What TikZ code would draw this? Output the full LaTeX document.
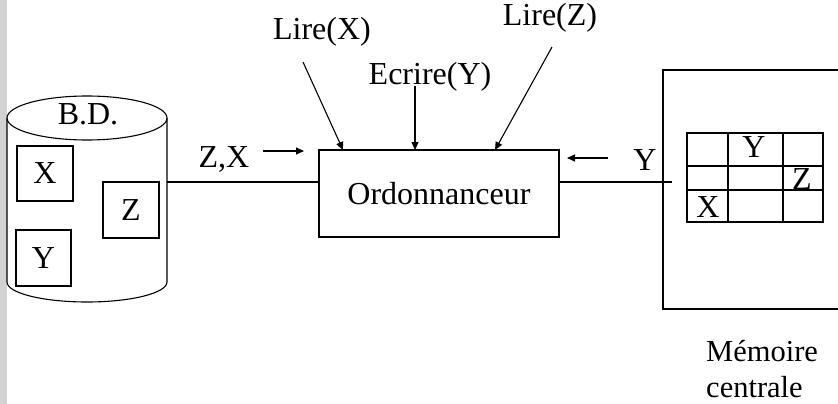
\documentclass[tikz,border=0pt]{standalone}
\usepackage{fontspec}
\setmainfont{Liberation Serif}
\usetikzlibrary{arrows.meta}
\begin{document}
\begin{tikzpicture}[x=1pt,y=-1pt,
  ln/.style={line width=1.1pt},
  arr/.style={ln,-{Triangle[length=8pt,width=7pt]}},
  lbl/.style={inner sep=0pt,font=\fontsize{32}{38}\selectfont},
  sbox/.style={draw,ln,inner sep=0pt,font=\fontsize{32}{38}\selectfont},
]
\useasboundingbox (0,0) rectangle (838,404);
\fill[gray!35] (0,0) rectangle (7,404);
% database cylinder
\draw[ln] (87,118) ellipse [x radius=80,y radius=22];
\draw[ln] (7,118) -- (7,282) arc[start angle=180,end angle=0,x radius=80,y radius=20] -- (167,118);
\node[lbl] (bd) at (88,114) {B.D.};
\node[sbox,minimum width=56pt,minimum height=55pt] (bx) at (45,173.5) {X};
\node[sbox,minimum width=56pt,minimum height=56pt] (bz) at (131,210) {Z};
\node[sbox,minimum width=55pt,minimum height=56pt] (by) at (43.5,258) {Y};
\coordinate (dbR) at (167,182);
% scheduler
\node[draw,ln,lbl,minimum width=240pt,minimum height=87pt] (ord) at (439,193.5) {Ordonnanceur};
% memory
\draw[ln] (838,70) -- (663,70) -- (663,309) -- (838,309);
\coordinate (memIn) at (672,182);
\draw[ln] (687,133) rectangle (823,222);
\draw[ln] (728,133) -- (728,222) (783,133) -- (783,222)
          (687,166) -- (823,166) (687,190) -- (823,190);
\node[lbl] (gy) at (754,147) {Y};
\node[lbl] (gz) at (802,179) {Z};
\node[lbl] (gx) at (708,207) {X};
\node[inner sep=0pt,font=\fontsize{30.5}{36}\selectfont,align=left,anchor=north west] (mem) at (706,340) {Mémoire\\centrale};
% connectors
\draw[ln] (dbR) -- (dbR -| ord.west);
\draw[ln] (dbR -| ord.east) -- (memIn);
% labels and arrows
\node[lbl,anchor=base] (lx) at (322,40) {Lire(X)};
\node[lbl,anchor=base] (ey) at (430,84.5) {Ecrire(Y)};
\node[lbl,anchor=base] (lz) at (550,26) {Lire(Z)};
\node[lbl,anchor=base] (zx) at (224,167) {Z,X};
\node[lbl,anchor=base] (yr) at (645,170) {Y};
\coordinate (lxs) at (303,62);  \coordinate (lxe) at (343,150);
\coordinate (eys) at (415,86);  \coordinate (eye) at (415,150);
\coordinate (lzs) at (552,47);  \coordinate (lze) at (495,150);
\coordinate (zxs) at (263,151); \coordinate (zxe) at (304,151);
\coordinate (yrs) at (608,158); \coordinate (yre) at (567,158);
\draw[arr] (lxs) -- (lxe);
\draw[arr] (eys) -- (eye);
\draw[arr] (lzs) -- (lze);
\draw[arr] (zxs) -- (zxe);
\draw[arr] (yrs) -- (yre);
\end{tikzpicture}
\end{document}
